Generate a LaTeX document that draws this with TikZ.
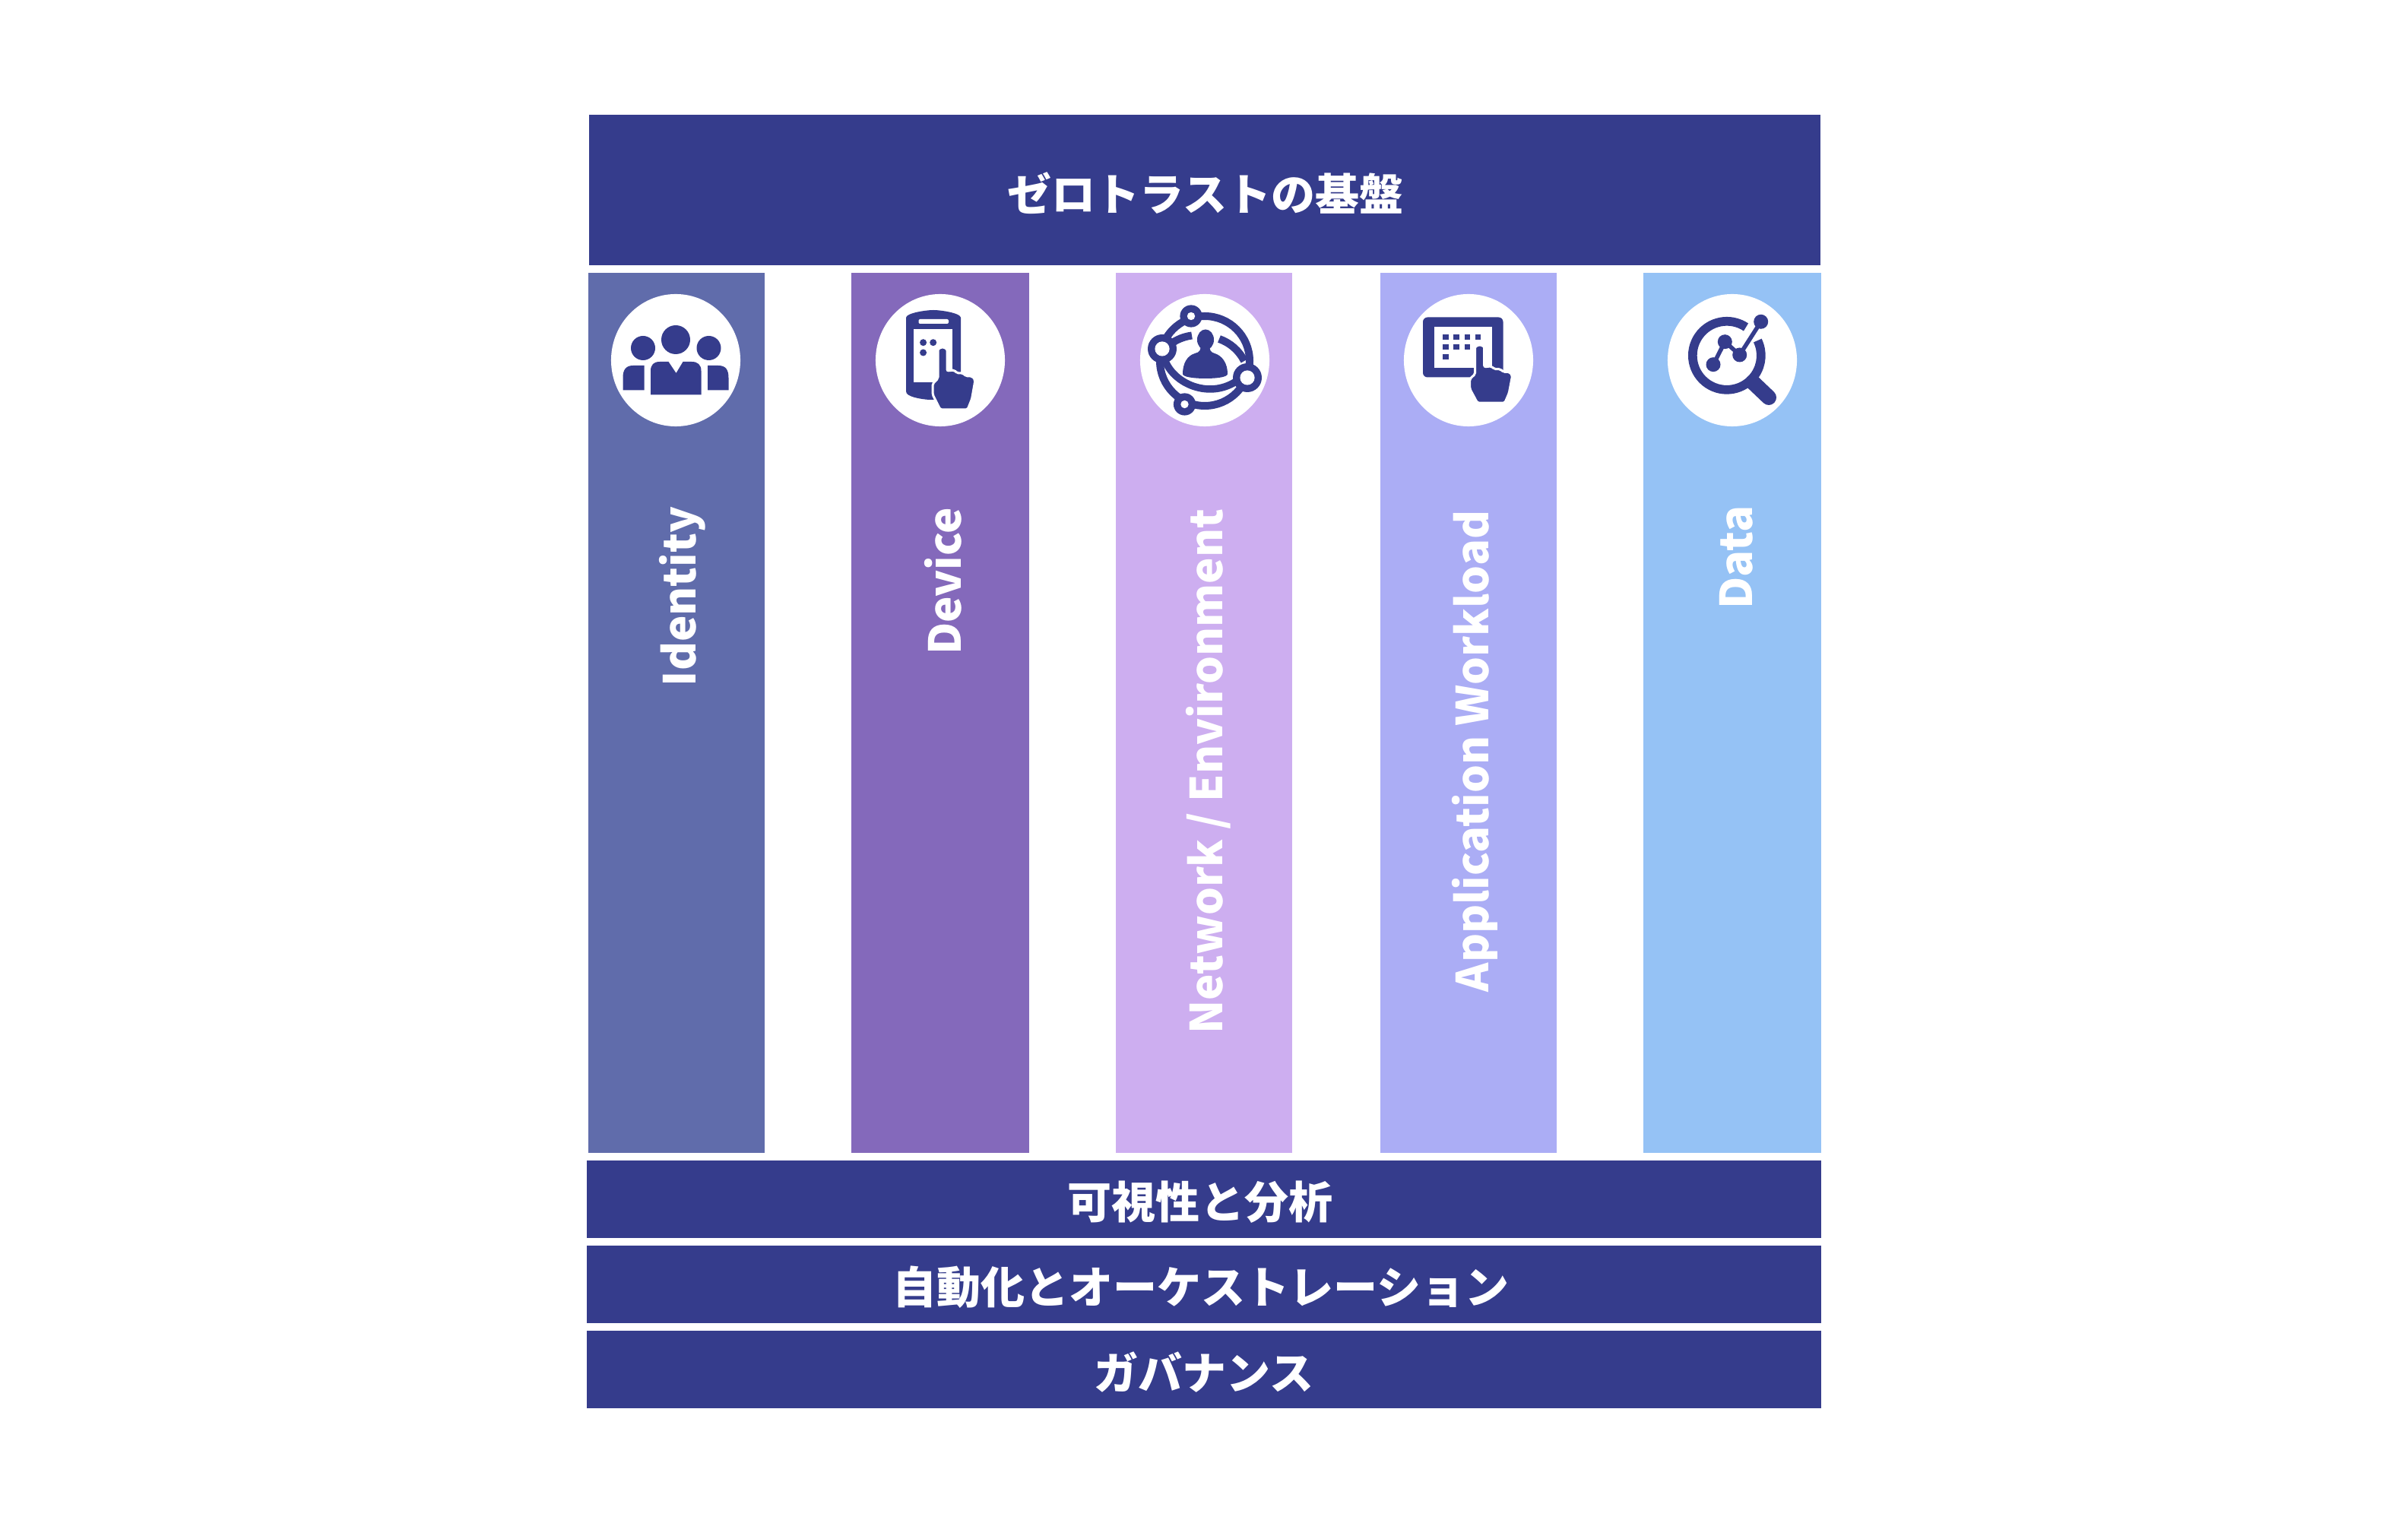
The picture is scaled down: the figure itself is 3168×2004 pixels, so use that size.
\documentclass[tikz,border=0pt]{standalone}
\usepackage{fontspec}
\setmainfont{Noto Sans CJK JP}
\usetikzlibrary{shapes.geometric}

\definecolor{ztnavy}{HTML}{353C8C}
\definecolor{ztidentity}{HTML}{606CAB}
\definecolor{ztdevice}{HTML}{8469BB}
\definecolor{ztnetwork}{HTML}{CDAEF0}
\definecolor{ztworkload}{HTML}{ABADF5}
\definecolor{ztdata}{HTML}{95C2F5}

\tikzset{
    bandname/.style={text=white, inner sep=0, font=\fontsize{16.5}{20}\bfseries\selectfont},
    topband/.style={fill=ztnavy, inner sep=0, minimum width=16.2cm, minimum height=1.98cm},
    lowband/.style={fill=ztnavy, inner sep=0, minimum width=16.24cm, minimum height=1.02cm},
    pillar/.style={inner sep=0, minimum width=2.32cm, minimum height=11.58cm},
    pillarname/.style={bandname, rotate=90, anchor=east},
    iconback/.style={shape=ellipse, fill=white, inner sep=0, minimum width=1.7cm, minimum height=1.74cm},
    hand/.pic={
        \fill[ztnavy, draw=white, line width=0.03cm, rounded corners=0.02cm]
        (-6,6) arc[start angle=180, end angle=360, radius=6] -- (6,31) -- (15.6,30) -- (19,34)
        -- (27,34) -- (31,38) -- (39,38) -- (43,43) -- (38.6,68) -- (33,82) -- (-3,82)
        -- (-13,62) -- (-13,48) -- (-6,41) -- cycle;
    }
}

\begin{document}
\begin{tikzpicture}[x=0.01cm, y=-0.01cm]
    \useasboundingbox (0,0) rectangle (3168,2004);

    % Bands
    \node[topband] (base) at (1585,250) {};
    \node[lowband] (visibility) at (1584,1578) {};
    \node[lowband] (automation) at (1584,1690) {};
    \node[lowband] (governance) at (1584,1802) {};

    % Band names
    \node[bandname] (basename) at (1586,254) {ゼロトラストの基盤};
    \node[bandname] (visibilityname) at (1579,1582) {可視性と分析};
    \node[bandname] (automationname) at (1580,1694) {自動化とオーケストレーション};
    \node[bandname] (governancename) at (1584,1806) {ガバナンス};

    % Pillars
    \node[pillar, fill=ztidentity] (identity) at (890,938) {};
    \node[pillar, fill=ztdevice, minimum width=2.34cm] (device) at (1237,938) {};
    \node[pillar, fill=ztnetwork] (network) at (1584,938) {};
    \node[pillar, fill=ztworkload] (workload) at (1932,938) {};
    \node[pillar, fill=ztdata, minimum width=2.34cm] (data) at (2279,938) {};

    % Pillar names
    \node[pillarname] (identityname) at (898,666) {Identity};
    \node[pillarname] (devicename) at (1241,667) {Device};
    \node[pillarname] (networkname) at (1590,669) {Network / Environment};
    \node[pillarname] (workloadname) at (1940,671) {Application Workload};
    \node[pillarname] (dataname) at (2284,665) {Data};

    % Icon backgrounds
    \node[iconback] (identityicon) at (889,474) {};
    \node[iconback] (deviceicon) at (1237,474) {};
    \node[iconback] (networkicon) at (1585,474) {};
    \node[iconback] (workloadicon) at (1932,474) {};
    \node[iconback] (dataicon) at (2279,474) {};

    % Identity icon
    \fill[ztnavy] (889,447) circle[radius=19];
    \fill[ztnavy] (846,458) circle[radius=16];
    \fill[ztnavy] (932.5,458) circle[radius=16];
    \fill[ztnavy] (856,519.5) -- (856,488) .. controls (856,480) and (860,476) .. (868,476) -- (879.5,476) -- (889.5,491) -- (898.5,476) -- (910,476) .. controls (918,476) and (922.5,480) .. (922.5,488) -- (922.5,519.5) -- cycle;
    \fill[ztnavy] (819.5,513.5) -- (819.5,497) .. controls (819.5,487) and (823,481) .. (833,481) -- (847.5,481) -- (847.5,513.5) -- cycle;
    \fill[ztnavy] (958.5,513.5) -- (958.5,497) .. controls (958.5,487) and (955,481) .. (945,481) -- (931,481) -- (931,513.5) -- cycle;

    % Device icon
    \fill[ztnavy] (1192,418) .. controls (1192,412) and (1218,408) .. (1228,408) .. controls (1238,408) and (1264,412) .. (1264,418) -- (1264,500) -- (1240,526) -- (1222,526) .. controls (1210,525) and (1192,522) .. (1192,515) -- cycle;
    \fill[white, rounded corners=0.02cm] (1208.5,420) rectangle (1248,426);
    \fill[white] (1202,433) rectangle (1253,503);
    \fill[ztnavy] (1214.6,450.7) circle[radius=4.5];
    \fill[ztnavy] (1227.7,450.7) circle[radius=4.5];
    \fill[ztnavy] (1214.6,464) circle[radius=4.5];
    \pic at (1240,457) {hand};

    % Network icon
    \draw[ztnavy, line width=0.1cm] (1585,475) circle[radius=59];
    \draw[ztnavy, line width=0.095cm] (1533,475) .. controls (1545,505) and (1590,525) .. (1626,502);
    \draw[ztnavy, line width=0.1cm] (1541,452) .. controls (1548,447) and (1557,443) .. (1568,441.5);
    \draw[ztnavy, line width=0.1cm] (1604,446) .. controls (1618,451) and (1630,461) .. (1637,475);
    \fill[ztnavy] (1567,416) circle[radius=14.6];
    \fill[white] (1567,416) circle[radius=5.2];
    \fill[ztnavy] (1529,459) circle[radius=19];
    \fill[white] (1529,459) circle[radius=9.6];
    \fill[ztnavy] (1641,497) circle[radius=19];
    \fill[white] (1641,497) circle[radius=9.6];
    \fill[ztnavy] (1558.5,532) circle[radius=14.6];
    \fill[white] (1558.5,532) circle[radius=5.2];
    \fill[ztnavy] (1586,447) circle[x radius=11, y radius=13.5];
    \fill[ztnavy] (1579,452) .. controls (1581,460) and (1578,464) .. (1572,465) .. controls (1562,468) and (1556,478) .. (1556,492) .. controls (1556,496) and (1570,498) .. (1586,498) .. controls (1602,498) and (1615,496) .. (1615,492) .. controls (1615,478) and (1608,468) .. (1598,465) .. controls (1593,464) and (1590,460) .. (1592,452) -- cycle;

    % Workload icon
    \fill[ztnavy, rounded corners=0.06cm] (1872,417.5) rectangle (1977.5,496.5);
    \fill[white] (1886.5,430) rectangle (1963,484.5);
    \fill[ztnavy] (1898,440) rectangle (1905.5,447.5);
    \fill[ztnavy] (1912,440) rectangle (1919.5,447.5);
    \fill[ztnavy] (1926.5,440) rectangle (1934,447.5);
    \fill[ztnavy] (1940.5,440) rectangle (1948,447.5);
    \fill[ztnavy] (1898,453) rectangle (1905.5,460.5);
    \fill[ztnavy] (1912,453) rectangle (1919.5,460.5);
    \fill[ztnavy] (1926.5,453) rectangle (1934,460.5);
    \fill[ztnavy] (1898,466) rectangle (1905.5,473.5);
    \pic[yscale=0.93] at (1946.7,454) {hand};

    % Data icon
    \draw[ztnavy, line width=0.117cm] (2297,430.5) arc[start angle=-56, end angle=-386, radius=45];
    \draw[ztnavy, line width=0.2cm, line cap=round] (2306,503) -- (2327,523);
    \draw[white, line width=0.13cm] (2288.7,467) -- (2316.7,423.3);
    \draw[ztnavy, line width=0.055cm] (2254,479.7) -- (2269.3,449.7) -- (2288.7,467) -- (2316.7,423.3);
    \fill[ztnavy] (2254,479.7) circle[radius=9.5];
    \fill[ztnavy] (2269.3,449.7) circle[radius=9.5];
    \fill[ztnavy] (2288.7,467) circle[radius=9.5];
    \fill[ztnavy] (2316.7,423.3) circle[radius=9.5];

\end{tikzpicture}
\end{document}
